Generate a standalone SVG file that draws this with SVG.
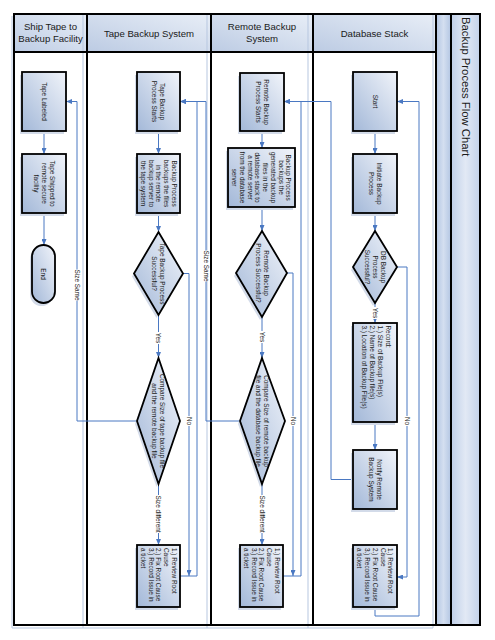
<svg xmlns="http://www.w3.org/2000/svg" width="495" height="640" viewBox="0 0 495 640">
<defs>
<linearGradient id="gNode" x1="1" y1="0" x2="0" y2="1">
<stop offset="0" stop-color="#f1f4fa"/>
<stop offset="1" stop-color="#a3b8d8"/>
</linearGradient>
<linearGradient id="gHead" x1="1" y1="0" x2="0" y2="1">
<stop offset="0" stop-color="#e8eef7"/>
<stop offset="1" stop-color="#bccbe3"/>
</linearGradient>
<linearGradient id="gStrip" x1="0" y1="0" x2="1" y2="0">
<stop offset="0" stop-color="#b3c6e3"/>
<stop offset="0.5" stop-color="#d4dff0"/>
<stop offset="1" stop-color="#b3c6e3"/>
</linearGradient>
<linearGradient id="gTitle" x1="0" y1="0" x2="1" y2="0">
<stop offset="0" stop-color="#bfcfe8"/>
<stop offset="0.5" stop-color="#e2e9f5"/>
<stop offset="1" stop-color="#c3d2ea"/>
</linearGradient>
<marker id="arr" markerWidth="6" markerHeight="5" refX="6" refY="2.5" orient="auto" markerUnits="userSpaceOnUse">
<path d="M0,0 L6,2.5 L0,5 Z" fill="#4a78c2"/>
</marker>
</defs>
<style>
.lane{fill:none;stroke:#000;stroke-width:2}
.sh{fill:none;stroke:#b7c7e0;stroke-width:1}
.node{fill:url(#gNode);stroke:#000;stroke-width:1.8}
.nsh{fill:#d3dbe9}
.t{font-family:"Liberation Sans",Arial,sans-serif;font-size:6.4px;fill:#1a1a1a;text-anchor:middle}
.tl{font-family:"Liberation Sans",Arial,sans-serif;font-size:6.4px;fill:#1a1a1a;text-anchor:start}
.h{font-family:"Liberation Sans",Arial,sans-serif;font-size:9.6px;fill:#1a1a1a;text-anchor:middle}
.c{fill:none;stroke:#4a78c2;stroke-width:1}
.ca{fill:none;stroke:#4a78c2;stroke-width:1;marker-end:url(#arr)}
.lbg{fill:#fff}
.lb{font-family:"Liberation Sans",Arial,sans-serif;font-size:6.4px;fill:#1a1a1a;text-anchor:middle}
</style>
<rect x="0" y="0" width="495" height="640" fill="#fff"/>

<g id="pool">
<rect x="14" y="14" width="73" height="38" fill="url(#gHead)"/>
<rect x="87" y="14" width="124" height="38" fill="url(#gHead)"/>
<rect x="211" y="14" width="102" height="38" fill="url(#gHead)"/>
<rect x="313" y="14" width="123" height="38" fill="url(#gHead)"/>
<rect x="436" y="14" width="15" height="611" fill="url(#gStrip)"/>
<rect x="451" y="14" width="29" height="611" fill="url(#gTitle)"/>
<path class="sh" d="M12,16 V628 H433 V14 M83,14 V628 M207,14 V628 M308,14 V628"/>
<rect class="lane" x="14" y="14" width="466" height="611"/>
<path class="lane" d="M87,14 V625 M211,14 V625 M313,14 V625 M436,14 V625 M451,14 V625 M14,52 H436"/>
<text class="h" x="50.5" y="30">Ship Tape to</text>
<text class="h" x="50.5" y="41.5">Backup Facility</text>
<text class="h" x="149" y="37">Tape Backup System</text>
<text class="h" x="262" y="30">Remote Backup</text>
<text class="h" x="262" y="41.5">System</text>
<text class="h" x="374.5" y="37">Database Stack</text>
<text font-family="Liberation Sans, Arial, sans-serif" font-size="11.3" fill="#1a1a1a" transform="translate(462,17) rotate(90)">Backup Process Flow Chart</text>
</g>

<g id="connectors">
<path class="ca" d="M44,131 V154"/>
<path class="ca" d="M44,213 V245"/>
<path class="ca" d="M137,421 H77 V101.5 H66"/>
<path class="ca" d="M158.5,131 V154"/>
<path class="ca" d="M158.5,213 V232"/>
<path class="ca" d="M158.5,315 V358"/>
<path class="ca" d="M158.5,484 V545"/>
<path class="ca" d="M183,273.5 H189 V576"/>
<path class="ca" d="M180,576 H197 V101.5 H180"/>
<path class="ca" d="M240,421 H206 V101.5 H180"/>
<path class="ca" d="M262,131 V148"/>
<path class="ca" d="M262,207 V231"/>
<path class="ca" d="M262,317 V358"/>
<path class="ca" d="M262,484 V545"/>
<path class="ca" d="M287,273 H293 V576"/>
<path class="ca" d="M283,576 H301 V101.5 H284"/>
<path class="ca" d="M353,479.5 H331 V101.5 H284"/>
<path class="ca" d="M375,131 V154"/>
<path class="ca" d="M375,213 V231"/>
<path class="ca" d="M375,303 V323"/>
<path class="ca" d="M375,422 V450"/>
<path class="ca" d="M397,267 H407 V577 H397"/>
<path class="ca" d="M375,607 V616 H419 V101.5 H397"/>
<rect class="lbg" x="73.5" y="269.5" width="7" height="31"/>
<text class="lb" transform="translate(77,285) rotate(90)" y="2.2">Size Same</text>
<rect class="lbg" x="202.5" y="250.5" width="7" height="31"/>
<text class="lb" transform="translate(206,266) rotate(90)" y="2.2">Size Same</text>
<rect class="lbg" x="155" y="332" width="7" height="12"/>
<text class="lb" transform="translate(158.5,338) rotate(90)" y="2.2">Yes</text>
<rect class="lbg" x="155" y="495" width="7" height="38"/>
<text class="lb" transform="translate(158.5,514) rotate(90)" y="2.2">Size different</text>
<rect class="lbg" x="185.5" y="416" width="7" height="10"/>
<text class="lb" transform="translate(189,421) rotate(90)" y="2.2">No</text>
<rect class="lbg" x="258.5" y="331" width="7" height="12"/>
<text class="lb" transform="translate(262,337) rotate(90)" y="2.2">Yes</text>
<rect class="lbg" x="258.5" y="495" width="7" height="38"/>
<text class="lb" transform="translate(262,514) rotate(90)" y="2.2">Size different</text>
<rect class="lbg" x="289.5" y="416" width="7" height="10"/>
<text class="lb" transform="translate(293,421) rotate(90)" y="2.2">No</text>
<rect class="lbg" x="371.5" y="307" width="7" height="12"/>
<text class="lb" transform="translate(375,313) rotate(90)" y="2.2">Yes</text>
<rect class="lbg" x="403.5" y="416" width="7" height="10"/>
<text class="lb" transform="translate(407,421) rotate(90)" y="2.2">No</text>
</g>

<g id="n_tape_labeled">
<rect class="nsh" x="20" y="75" width="44" height="59"/>
<rect class="node" x="22" y="72" width="44" height="59"/>
<text class="t" transform="translate(44,101.5) rotate(90)"><tspan x="0" y="2.2">Tape Labeled</tspan></text>
</g>
<g id="n_tape_shipped">
<rect class="nsh" x="20" y="157" width="44" height="59"/>
<rect class="node" x="22" y="154" width="44" height="59"/>
<text class="t" transform="translate(44,183.5) rotate(90)"><tspan x="0" y="-5.5">Tape Shipped to</tspan><tspan x="0" y="2.2">remote secure</tspan><tspan x="0" y="9.9">facility</tspan></text>
</g>
<g id="n_end">
<rect class="nsh" x="30" y="248" width="23" height="58" rx="11.5"/>
<rect class="node" x="32" y="245" width="23" height="58" rx="11.5"/>
<text class="t" transform="translate(43.5,274) rotate(90)"><tspan x="0" y="2.2">End</tspan></text>
</g>

<g id="n_tape_start">
<rect class="nsh" x="135" y="75" width="43" height="59"/>
<rect class="node" x="137" y="72" width="43" height="59"/>
<text class="t" transform="translate(158.5,101.5) rotate(90)"><tspan x="0" y="-1.65">Tape Backup</tspan><tspan x="0" y="6.05">Process Starts</tspan></text>
</g>
<g id="n_tape_backup">
<rect class="nsh" x="135" y="157" width="43" height="59"/>
<rect class="node" x="137" y="154" width="43" height="59"/>
<text class="t" transform="translate(158.5,183.5) rotate(90)"><tspan x="0" y="-13.2">Backup Process</tspan><tspan x="0" y="-5.5">backups the files</tspan><tspan x="0" y="2.2">in the remote</tspan><tspan x="0" y="9.9">backup server to</tspan><tspan x="0" y="17.6">the tape system</tspan></text>
</g>
<g id="n_tape_decision">
<polygon class="nsh" points="156.5,235 181,276.5 156.5,318 132,276.5"/>
<polygon class="node" points="158.5,232 183,273.5 158.5,315 134,273.5"/>
<text class="t" transform="translate(158.5,273.5) rotate(90)"><tspan x="0" y="-1.65">Tape Backup Process</tspan><tspan x="0" y="6.05">Successful?</tspan></text>
</g>
<g id="n_tape_compare">
<polygon class="nsh" points="156.5,361 178,424 156.5,487 135,424"/>
<polygon class="node" points="158.5,358 180,421 158.5,484 137,421"/>
<text class="t" transform="translate(158.5,421) rotate(90)"><tspan x="0" y="-1.65">Compare Size of tape backup file</tspan><tspan x="0" y="6.05">and the remote backup file</tspan></text>
</g>
<g id="n_tape_review">
<rect class="nsh" x="135" y="548" width="43" height="62"/>
<rect class="node" x="137" y="545" width="43" height="62"/>
<text class="tl" transform="translate(158.5,545) rotate(90)"><tspan x="3" y="-13.2">1.) Review Root</tspan><tspan x="3" y="-5.5">Cause</tspan><tspan x="3" y="2.2">2.) Fix Root Cause</tspan><tspan x="3" y="9.9">3.) Record Issue in</tspan><tspan x="3" y="17.6">a ticket</tspan></text>
</g>

<g id="n_remote_start">
<rect class="nsh" x="238" y="76" width="44" height="58"/>
<rect class="node" x="240" y="73" width="44" height="58"/>
<text class="t" transform="translate(262,102) rotate(90)"><tspan x="0" y="-1.65">Remote Backup</tspan><tspan x="0" y="6.05">Process Starts</tspan></text>
</g>
<g id="n_remote_backup">
<rect class="nsh" x="226" y="151" width="67" height="59"/>
<rect class="node" x="228" y="148" width="67" height="59"/>
<text class="t" transform="translate(261.5,177.5) rotate(90)"><tspan x="0" y="-24.75">Backup Process</tspan><tspan x="0" y="-17.05">backups the</tspan><tspan x="0" y="-9.35">generated backup</tspan><tspan x="0" y="-1.65">files in the</tspan><tspan x="0" y="6.05">database stack to</tspan><tspan x="0" y="13.75">a remote server</tspan><tspan x="0" y="21.45">from the database</tspan><tspan x="0" y="29.15">server</tspan></text>
</g>
<g id="n_remote_decision">
<polygon class="nsh" points="260,234 285,276 260,320 234,276"/>
<polygon class="node" points="262,231 287,273 262,317 236,273"/>
<text class="t" transform="translate(262,273) rotate(90)"><tspan x="0" y="-1.65">Remote Backup</tspan><tspan x="0" y="6.05">Process Successful?</tspan></text>
</g>
<g id="n_remote_compare">
<polygon class="nsh" points="260,361 283,424 260,487 238,424"/>
<polygon class="node" points="262,358 285,421 262,484 240,421"/>
<text class="t" transform="translate(262,421) rotate(90)"><tspan x="0" y="-1.65">Compare Size of remote backup</tspan><tspan x="0" y="6.05">file and the database backup file</tspan></text>
</g>
<g id="n_remote_review">
<rect class="nsh" x="238" y="548" width="43" height="62"/>
<rect class="node" x="240" y="545" width="43" height="62"/>
<text class="tl" transform="translate(261.5,545) rotate(90)"><tspan x="3" y="-13.2">1.) Review Root</tspan><tspan x="3" y="-5.5">Cause</tspan><tspan x="3" y="2.2">2.) Fix Root Cause</tspan><tspan x="3" y="9.9">3.) Record Issue in</tspan><tspan x="3" y="17.6">a ticket</tspan></text>
</g>

<g id="n_start">
<rect class="nsh" x="351" y="75" width="44" height="59"/>
<rect class="node" x="353" y="72" width="44" height="59"/>
<text class="t" transform="translate(375,101.5) rotate(90)"><tspan x="0" y="2.2">Start</tspan></text>
</g>
<g id="n_initiate">
<rect class="nsh" x="351" y="157" width="44" height="59"/>
<rect class="node" x="353" y="154" width="44" height="59"/>
<text class="t" transform="translate(375,183.5) rotate(90)"><tspan x="0" y="-1.65">Initiate Backup</tspan><tspan x="0" y="6.05">Process</tspan></text>
</g>
<g id="n_db_decision">
<polygon class="nsh" points="373,234 395,270 373,306 351,270"/>
<polygon class="node" points="375,231 397,267 375,303 353,267"/>
<text class="t" transform="translate(375,267) rotate(90)"><tspan x="0" y="-5.5">DB Backup</tspan><tspan x="0" y="2.2">Process</tspan><tspan x="0" y="9.9">Successful?</tspan></text>
</g>
<g id="n_record">
<rect class="nsh" x="351" y="326" width="44" height="99"/>
<rect class="node" x="353" y="323" width="44" height="99"/>
<text class="tl" transform="translate(375.5,323) rotate(90)"><tspan x="2.5" y="-10">Record:</tspan><tspan x="2.5" y="-2">1.) Size of Backup File(s)</tspan><tspan x="2.5" y="6">2.) Name of Backup file(s)</tspan><tspan x="2.5" y="14">3.) Location of Backup File(s)</tspan></text>
</g>
<g id="n_notify">
<rect class="nsh" x="351" y="453" width="44" height="59"/>
<rect class="node" x="353" y="450" width="44" height="59"/>
<text class="t" transform="translate(375,479.5) rotate(90)"><tspan x="0" y="-1.65">Notify Remote</tspan><tspan x="0" y="6.05">Backup System</tspan></text>
</g>
<g id="n_db_review">
<rect class="nsh" x="351" y="548" width="44" height="62"/>
<rect class="node" x="353" y="545" width="44" height="62"/>
<text class="tl" transform="translate(375,545) rotate(90)"><tspan x="3" y="-13.2">1.) Review Root</tspan><tspan x="3" y="-5.5">Cause</tspan><tspan x="3" y="2.2">2.) Fix Root Cause</tspan><tspan x="3" y="9.9">3.) Record Issue in</tspan><tspan x="3" y="17.6">a ticket</tspan></text>
</g>
</svg>
